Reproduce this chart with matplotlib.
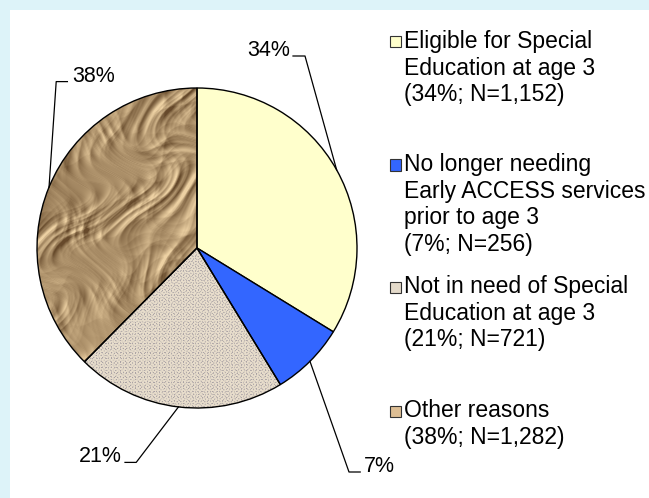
# coding: utf-8

import numpy as np
from matplotlib import pyplot as plt
from matplotlib.patches import Rectangle

# データ
categories = ['Eligible for Special\nEducation at age 3',
              'No longer needing\nEarly ACCESS services\nprior to age 3',
              'Not in need of Special\nEducation at age 3',
              'Other reasons']
counts = [1152, 256, 721, 1282]
pct_labels = ['34%', '7%', '21%', '38%']
legend_pcts = ['34%', '7%', '21%', '38%']
legend_counts = ['1,152', '256', '721', '1,282']

colors = ['#FFFFCC', '#3366FF', '#E4DACA', '#B08C62']
marker_colors = ['#FFFFCC', '#3366FF', '#E4DACA', '#DDBE94']

W, H = 649, 498


# ピクセル座標(左上原点)を図の座標に変換
def fx(px):
    return px / W


def fy(py):
    return 1 - py / H


# 麻布っぽい模様
def linen_texture(n=320):
    yy, xx = np.mgrid[0:n, 0:n].astype(float)
    base = np.array([0.91, 0.87, 0.80])
    t1 = np.clip(np.sin(xx * 2.1) * np.sin(yy * 1.3 + 0.5 * np.sin(xx * 0.7)), 0, 1)
    t2 = np.clip(np.sin(yy * 2.1) * np.sin(xx * 1.3 + 0.5 * np.sin(yy * 0.9)), 0, 1)
    t = np.maximum(t1, t2) ** 2
    img = base[None, None, :] - t[:, :, None] * np.array([0.25, 0.24, 0.16])
    return np.clip(img, 0, 1)


# しわくちゃの紙っぽい模様
def crumpled_texture(n=320):
    yy, xx = np.mgrid[0:n, 0:n] / n * 2 * np.pi
    # 座標をゆがめて直線っぽさを消す
    wx = xx + 0.35 * np.sin(2.3 * yy + 0.4) + 0.2 * np.sin(4.1 * yy + 1.7 * xx)
    wy = yy + 0.35 * np.sin(1.9 * xx + 1.2) + 0.2 * np.sin(3.7 * xx - 2.2 * yy)
    waves = [(3.0, 1.2, 0.3, 1.0), (-1.7, 3.6, 1.1, 0.9), (4.3, -2.4, 2.0, 0.8),
             (1.2, 5.1, 0.7, 0.6), (-4.8, -2.0, 1.9, 0.6), (6.7, 3.1, 2.6, 0.5),
             (-3.6, 6.0, 0.4, 0.45), (8.3, -5.2, 1.4, 0.35), (-7.5, 7.9, 2.2, 0.3),
             (10.1, 2.6, 0.9, 0.25), (2.3, -10.7, 1.7, 0.25), (-11.6, -4.4, 0.2, 0.2)]
    h = np.zeros_like(xx)
    for kx, ky, ph, a in waves:
        h += a * np.abs(np.sin(kx * wx + ky * wy + ph))
    gy, gx = np.gradient(h)
    shade = -(gx + 0.6 * gy)
    shade = (shade - shade.mean()) / (shade.std() + 1e-9)
    low = 0.5 * np.sin(1.3 * xx + 0.8) * np.sin(1.1 * yy + 2.1)
    s = np.clip(0.52 + 0.16 * shade + 0.12 * low, 0, 1)
    dark = np.array([0.40, 0.29, 0.17])
    light = np.array([0.93, 0.82, 0.64])
    return dark[None, None, :] + s[:, :, None] * (light - dark)[None, None, :]


def draw_pie():
    plt.rcParams['font.family'] = ['Liberation Sans', 'DejaVu Sans']

    fig = plt.figure(figsize=(W / 100, H / 100), dpi=100)
    fig.patch.set_facecolor('#DDF3F9')
    fig.patches.append(Rectangle((fx(10), 0), 1 - fx(10), fy(10), transform=fig.transFigure,
                                 facecolor='white', edgecolor='none', zorder=-5))

    ax = fig.add_axes([fx(37), fy(408), 320 / W, 320 / H])
    ax.set_zorder(1)
    wedges, _ = ax.pie(counts, colors=colors, startangle=90, counterclock=False,
                       wedgeprops=dict(edgecolor='black', linewidth=1.0))

    # テクスチャを扇形で切り抜く
    for w, tex in [(wedges[2], linen_texture()), (wedges[3], crumpled_texture())]:
        im = ax.imshow(tex, extent=(-1, 1, -1, 1), zorder=0.5, interpolation='bilinear')
        im.set_clip_path(w)
        w.set_facecolor('none')
        w.set_zorder(1)
    ax.set_xlim(-1, 1)
    ax.set_ylim(-1, 1)
    ax.axis('off')

    # 引き出し線とパーセント表示 (elbow, end, text x, ha)
    leaders = [((0.675, 1.20), 0.60, 0.58, 'right'),
               ((0.95, -1.40), 1.02, 1.04, 'left'),
               ((-0.38, -1.34), -0.45, -0.47, 'right'),
               ((-0.88, 1.04), -0.81, -0.78, 'left')]
    for w, lab, (elbow, end_x, tx, ha) in zip(wedges, pct_labels, leaders):
        th = np.deg2rad((w.theta1 + w.theta2) / 2)
        mx, my = np.cos(th), np.sin(th)
        ax.plot([mx, elbow[0], end_x], [my, elbow[1], elbow[1]], color='black',
                linewidth=0.9, clip_on=False)
        ax.text(tx, elbow[1], lab, ha=ha, va='baseline', fontsize=15.5)

    # 凡例
    legend_y = [42, 165, 287, 411]
    for cat, p, n, mc, y in zip(categories, legend_pcts, legend_counts, marker_colors, legend_y):
        fig.patches.append(Rectangle((fx(390), fy(y + 5.5)), 11 / W, 11 / H,
                                     transform=fig.transFigure, facecolor=mc,
                                     edgecolor='#333333', linewidth=0.8))
        fig.text(fx(404), fy(y - 12), cat + '\n(%s; N=%s)' % (p, n),
                 ha='left', va='top', fontsize=16.5, linespacing=1.2)

    fig.savefig('out.png', dpi=100, facecolor=fig.get_facecolor())


def main():
    draw_pie()


if __name__ == "__main__":
    main()
